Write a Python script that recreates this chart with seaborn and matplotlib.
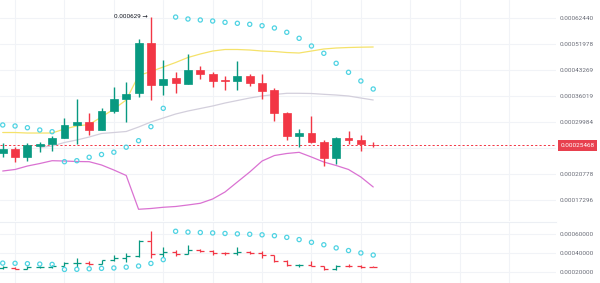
import numpy as np
import pandas as pd
import matplotlib
matplotlib.use("Agg")
import matplotlib.pyplot as plt
from matplotlib.ticker import NullLocator, FixedLocator
import seaborn as sns

# ---- data (prices in units of 1e-4) ----
SCALE = 1e-4
open_ = [2.415, 2.473, 2.348, 2.537, 2.562, 2.684, 2.942, 2.992, 2.834, 3.250, 3.519, 3.687, 5.223, 3.901, 4.081, 3.928,
         4.318, 4.192, 4.032, 4.012, 4.148, 3.956, 3.745, 3.202, 2.716, 2.780, 2.600, 2.323, 2.678, 2.641, 2.558]
close = [2.478, 2.348, 2.549, 2.562, 2.673, 2.936, 2.994, 2.834, 3.247, 3.522, 3.653, 5.223, 3.892, 4.070, 3.939, 4.327,
         4.192, 4.004, 4.004, 4.148, 3.956, 3.739, 3.202, 2.716, 2.780, 2.604, 2.323, 2.684, 2.641, 2.562, 2.5468]
high = [2.586, 2.519, 2.591, 2.609, 2.716, 3.078, 3.519, 3.202, 3.302, 3.830, 3.984, 5.373, 6.290, 4.643, 4.266, 4.844,
        4.441, 4.275, 4.156, 4.610, 4.192, 4.192, 3.803, 3.224, 2.854, 3.117, 2.632, 2.701, 2.808, 2.726, 2.598]
low = [2.342, 2.266, 2.282, 2.432, 2.444, 2.673, 2.562, 2.745, 2.830, 3.202, 3.005, 3.584, 3.502, 3.627, 3.671, 3.920,
       4.075, 3.830, 3.758, 3.758, 3.865, 3.519, 3.020, 2.641, 2.519, 2.580, 2.191, 2.230, 2.567, 2.452, 2.508]
sar = [2.936, 2.915, 2.880, 2.834, 2.800, 2.266, 2.282, 2.338, 2.384, 2.423, 2.510, 2.628, 2.901, 3.302, 6.285, 6.200,
       6.157, 6.113, 6.057, 6.015, 5.973, 5.914, 5.819, 5.645, 5.411, 5.125, 4.868, 4.536, 4.257, 4.004, 3.784]
band_upper = [2.784, 2.784, 2.774, 2.774, 2.774, 2.854, 2.915, 2.946, 3.106, 3.286, 3.502, 4.162, 4.281, 4.419, 4.562,
              4.726, 4.844, 4.947, 5.000, 5.000, 4.982, 4.947, 4.930, 4.895, 4.878, 4.947, 5.018, 5.053, 5.071, 5.082, 5.089]
band_mid = [np.nan, np.nan, np.nan, 2.505, 2.531, 2.595, 2.641, 2.697, 2.765, 2.784, 2.804, 2.894, 2.998, 3.084, 3.172,
            3.240, 3.298, 3.357, 3.428, 3.489, 3.551, 3.602, 3.640, 3.671, 3.671, 3.666, 3.645, 3.627, 3.602, 3.551, 3.502]
band_lower = [2.122, 2.145, 2.198, 2.237, 2.282, 2.277, 2.269, 2.266, 2.214, 2.137, 2.056, 1.620, 1.629, 1.643, 1.652,
              1.670, 1.690, 1.742, 1.830, 1.964, 2.107, 2.277, 2.367, 2.401, 2.421, 2.342, 2.261, 2.206, 2.145, 2.034, 1.896]

main_ticks = [0.00062440, 0.00051978, 0.00043269, 0.00036019, 0.00029984, 0.00020778, 0.00017296]
grid_only_ticks = [0.00024960]
sub_ticks = [0.00060000, 0.00040000, 0.00020000]
last_price_label = "0.00025468"
high_label = "0.000629"

# ---- frame ----
n = len(open_)
df = pd.DataFrame({
    "i": np.arange(n),
    "open": np.array(open_) * SCALE,
    "close": np.array(close) * SCALE,
    "high": np.array(high) * SCALE,
    "low": np.array(low) * SCALE,
    "sar": np.array(sar) * SCALE,
    "upper": np.array(band_upper) * SCALE,
    "mid": np.array(band_mid) * SCALE,
    "lower": np.array(band_lower) * SCALE,
})
df["up"] = df["close"] >= df["open"]

GREEN = "#089981"
RED = "#f23645"
CYAN = "#4fd3e3"
YELLOW = "#f5e26a"
GRAYL = "#d3cfdc"
PINK = "#da72d2"
GRID = "#f1f3f7"
TXT = "#6a6d78"

sns.set_theme(style="white")
plt.rcParams["font.family"] = ["Roboto", "DejaVu Sans"]

W, H = 600, 283
fig = plt.figure(figsize=(6.0, 2.83), dpi=100)
fig.patch.set_facecolor("white")
ax = fig.add_axes([0, 1 - 221 / H, 556 / W, 221 / H])
axs = fig.add_axes([0, 0, 556 / W, 61 / H])

XLIM = (-0.22, 44.8)

# ---- main panel ----
ax.set_yscale("log")
ax.set_xlim(*XLIM)
ax.set_ylim(1.4914e-4, 7.0896e-4)

cols = np.where(df["up"], GREEN, RED)
ax.vlines(df["i"], df["low"], df["high"], colors=cols, lw=1.0, zorder=3)
bottoms = np.minimum(df["open"], df["close"])
heights = np.abs(df["close"] - df["open"])
ax.bar(df["i"], heights, bottom=bottoms, width=0.64, color=cols, edgecolor=cols, linewidth=0.5, zorder=4)

sns.lineplot(data=df, x="i", y="upper", ax=ax, color=YELLOW, lw=0.9, estimator=None, sort=False, zorder=2)
sns.lineplot(data=df, x="i", y="mid", ax=ax, color=GRAYL, lw=0.9, estimator=None, sort=False, zorder=2)
sns.lineplot(data=df, x="i", y="lower", ax=ax, color=PINK, lw=0.9, estimator=None, sort=False, zorder=2)
sns.scatterplot(data=df, x="i", y="sar", ax=ax, marker="o", s=9, facecolor="none", edgecolor=CYAN,
                linewidth=0.9, zorder=5)

last = df["close"].iloc[-1]
ax.axhline(last, color=RED, lw=0.7, ls=(0, (2.2, 2.2)), zorder=1)

ax.yaxis.tick_right()
ax.yaxis.set_major_locator(FixedLocator(main_ticks + grid_only_ticks))
ax.set_yticklabels([f"{v:.8f}" for v in main_ticks] + [""])
ax.yaxis.set_minor_locator(NullLocator())
ax.set_xticks(np.arange(1, 45, 4))
ax.set_xticklabels([])
ax.tick_params(axis="y", length=0, pad=2.9, labelsize=4.6, labelcolor=TXT)
ax.tick_params(axis="x", length=0)
ax.grid(True, color=GRID, lw=0.8)
ax.set_axisbelow(True)
ax.set_xlabel("")
ax.set_ylabel("")
for s in ax.spines.values():
    s.set_visible(False)

# last price tag
ax.annotate(last_price_label, xy=(1.0, last), xycoords=ax.get_yaxis_transform(),
            xytext=(3.2, 0), textcoords="offset points", ha="left", va="center",
            fontsize=4.6, color="white", annotation_clip=False,
            bbox=dict(boxstyle="square,pad=0.45", fc="#e8404e", ec="none"))

# high label
hi_idx = int(df["high"].idxmax())
ax.annotate(high_label + " \u2192", xy=(hi_idx, df["high"].max()), xycoords="data",
            xytext=(-2.2, 0), textcoords="offset points", ha="right", va="center",
            fontsize=4.6, color="#131722")

# ---- sub panel ----
axs.set_xlim(*XLIM)
axs.set_ylim(0.842e-4, 7.263e-4)
tick = 0.32
axs.vlines(df["i"], df["low"], df["high"], colors=cols, lw=0.9, zorder=3)
axs.hlines(df["open"], df["i"] - tick, df["i"], colors=cols, lw=0.9, zorder=3)
axs.hlines(df["close"], df["i"], df["i"] + tick, colors=cols, lw=0.9, zorder=3)
sns.scatterplot(data=df, x="i", y="sar", ax=axs, marker="o", s=9, facecolor="none", edgecolor=CYAN,
                linewidth=0.9, zorder=5)
axs.yaxis.tick_right()
axs.set_yticks(sub_ticks)
axs.set_yticklabels([f"{v:.8f}" for v in sub_ticks])
axs.set_xticks(np.arange(1, 45, 4))
axs.set_xticklabels([])
axs.tick_params(axis="y", length=0, pad=2.9, labelsize=4.6, labelcolor=TXT)
axs.tick_params(axis="x", length=0)
axs.grid(True, color=GRID, lw=0.8)
axs.set_axisbelow(True)
axs.set_xlabel("")
axs.set_ylabel("")
for k, s in axs.spines.items():
    s.set_visible(k == "top")
axs.spines["top"].set_color("#eceff4")
axs.spines["top"].set_linewidth(0.8)

fig.savefig("out.png", dpi=100, facecolor="white")
